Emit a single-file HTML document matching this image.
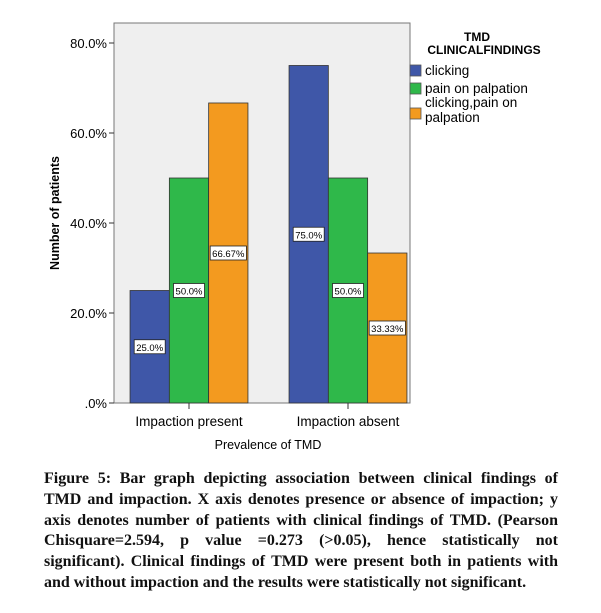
<!DOCTYPE html>
<html><head><meta charset="utf-8"><style>
body{margin:0;background:#fff;width:601px;height:613px;overflow:hidden;position:relative}
svg{position:absolute;left:0;top:0}
#cap{position:absolute;left:44px;top:469px;width:514px;font:bold 16px/20.8px "Liberation Serif",serif;color:#111}
#cap div{text-align:justify;text-align-last:justify;white-space:nowrap}
#cap div.last{text-align-last:left}
</style></head><body>
<svg width="601" height="470" font-family="Liberation Sans, sans-serif">
<rect x="114" y="23" width="296" height="380" fill="#efefef" stroke="#777"/>
<g id="g"></g>
</svg>
<div id="cap">
<div>Figure 5: Bar graph depicting association between clinical findings of</div>
<div>TMD and impaction. X axis denotes presence or absence of impaction; y</div>
<div>axis denotes number of patients with clinical findings of TMD. (Pearson</div>
<div>Chisquare=2.594, p value =0.273 (&gt;0.05), hence statistically not</div>
<div>significant). Clinical findings of TMD were present both in patients with</div>
<div class="last">and without impaction and the results were statistically not significant.</div>
</div>
<script>
const categories=["Impaction present","Impaction absent"];
const seriesNames=["clicking","pain on palpation","clicking,pain on palpation"];
const clicking=[25.0,75.0];
const pain=[50.0,50.0];
const both=[66.67,33.33];
const labels=[["25.0%","75.0%"],["50.0%","50.0%"],["66.67%","33.33%"]];
const ticks=[0,20,40,60,80];
const tickLabels=[".0%","20.0%","40.0%","60.0%","80.0%"];
const colors=["#3f57a8","#2fb84a","#f39a1f"];
const NS="http://www.w3.org/2000/svg",g=document.getElementById('g');
const y=v=>403-v*4.5;
const catX=i=>189+i*159;
const bw=39.3;
function mk(t,a,txt){const e=document.createElementNS(NS,t);for(const k in a)e.setAttribute(k,a[k]);if(txt!=null)e.textContent=txt;g.appendChild(e);return e;}
ticks.forEach((t,i)=>{
 const l=mk('line',{x1:109,x2:114,y1:y(t),y2:y(t),stroke:'#333'});
 
 
 const tx=mk('text',{x:107,y:y(t)+5,'text-anchor':'end','font-size':13},tickLabels[i]);
 
 
});
const series=[clicking,pain,both];
series.forEach((s,si)=>{
 s.forEach((v,ci)=>{
  const x=catX(ci)-1.5*bw+si*bw;
  const r=mk('rect',{x:x,y:y(v),width:bw,height:y(0)-y(v),fill:colors[si],stroke:'#333','stroke-width':0.8});
  
  
  const lbl=labels[si][ci],w=lbl.length*5.2+5,my=(y(v)+y(0))/2;
  const b=mk('rect',{x:x+bw/2-w/2,y:my-7,width:w,height:14,fill:'#fff',stroke:'#222','stroke-width':0.8});
  
  
  const t=mk('text',{x:x+bw/2,y:my+4,'text-anchor':'middle','font-size':9.5},lbl);
  
  
 });
});
categories.forEach((c,i)=>{
 const l=mk('line',{x1:catX(i),x2:catX(i),y1:403,y2:409,stroke:'#333'});
 
 
 const t=mk('text',{x:catX(i),y:426,'text-anchor':'middle','font-size':13.5},c);
 
 
});
const xt=mk('text',{x:268,y:449,'text-anchor':'middle','font-size':12.5},"Prevalence of TMD");


const yt=mk('text',{x:0,y:0,'text-anchor':'middle','font-size':12.5,'font-weight':'bold',transform:'translate(59,213) rotate(-90)'},"Number of patients");


const lt1=mk('text',{x:477,y:41,'text-anchor':'middle','font-size':12,'font-weight':'bold'},"TMD");


const lt2=mk('text',{x:484,y:54,'text-anchor':'middle','font-size':12,'font-weight':'bold'},"CLINICALFINDINGS");


const ly=[65,83,108];
seriesNames.forEach((n,i)=>{
 const r=mk('rect',{x:410,y:ly[i],width:11,height:11,fill:colors[i],stroke:'#555','stroke-width':0.8});
 
 
 if(i<2){const t=mk('text',{x:425,y:ly[i]+10,'font-size':13.5},n);
  
  }
 else{const t=mk('text',{x:425,y:ly[i]-1,'font-size':13.5},"clicking,pain on");
  
  
  const t2=mk('text',{x:425,y:ly[i]+14,'font-size':13.5},"palpation");
  
  }
});
</script>
</body></html>
